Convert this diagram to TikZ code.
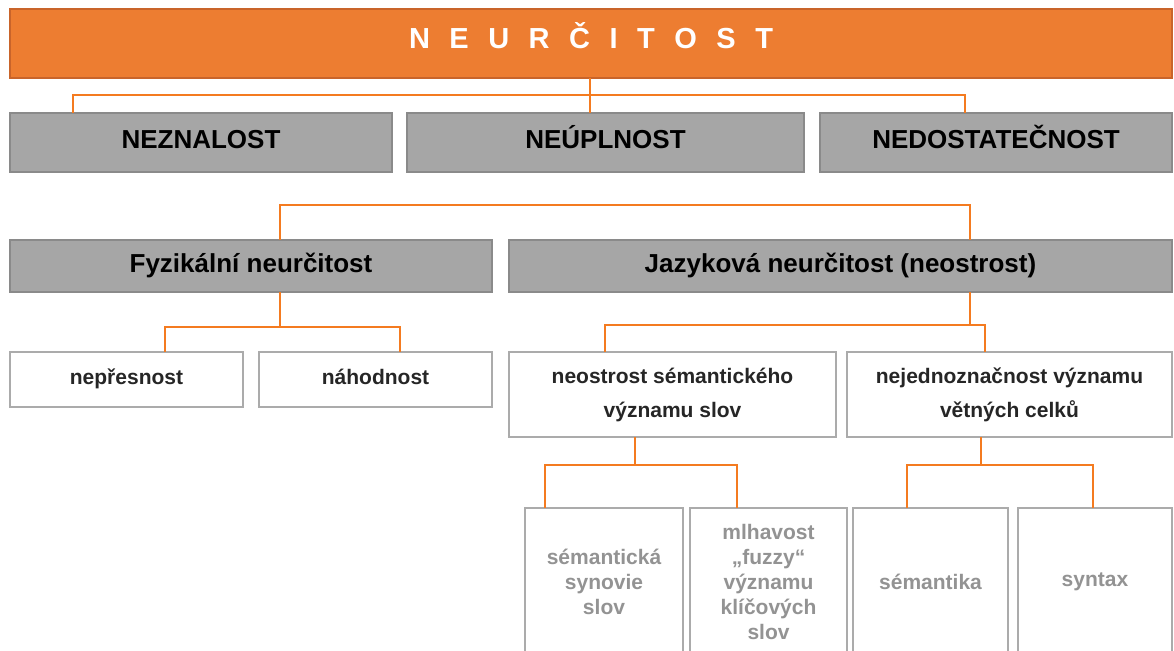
\documentclass[tikz,border=0pt]{standalone}
\usepackage{fontspec}
\setmainfont{Liberation Sans}

\definecolor{orangemain}{HTML}{ED7D31}
\definecolor{orangeedge}{HTML}{C9642A}
\definecolor{connorange}{HTML}{F47B20}
\definecolor{boxgray}{HTML}{A6A6A6}
\definecolor{boxedge}{HTML}{8A8A8A}
\definecolor{lightedge}{HTML}{ABABAB}
\definecolor{softtext}{HTML}{939393}

\tikzset{
  titlebar/.style={draw=orangeedge, line width=2pt, fill=orangemain, anchor=north west,
    inner sep=0pt, outer sep=0pt, text=white, font=\fontsize{29}{32}\selectfont\bfseries,
    text height=20pt, text depth=9pt},
  graybox/.style={draw=boxedge, line width=2.5pt, fill=boxgray, anchor=north west,
    inner sep=0pt, outer sep=0pt, text=black, font=\fontsize{26}{30}\selectfont\bfseries,
    text height=18.5pt, text depth=6pt},
  whitebox/.style={draw=lightedge, line width=2.5pt, fill=white, anchor=north west,
    inner sep=0pt, outer sep=0pt, align=center, text=black!85,
    font=\fontsize{21}{34}\selectfont\bfseries},
  onerow/.style={text height=15pt, text depth=5pt},
  leafbox/.style={whitebox, text=softtext, font=\fontsize{21}{25}\selectfont\bfseries},
  conn/.style={draw=connorange, line width=2.5pt},
}

\begin{document}
\begin{tikzpicture}[x=1pt,y=-1pt]
\useasboundingbox (0,0) rectangle (1174,650);
\clip (0,0) rectangle (1174,650);

% title bar
\node[titlebar, minimum width=1162pt, minimum height=69pt] (title) at (10,9)
  {\spaceskip=19.5pt N E U R Č I T O S T};

% first level
\node[graybox, minimum width=382pt, minimum height=59pt, text depth=7pt] (neznalost) at (10,113) {NEZNALOST};
\node[graybox, minimum width=397pt, minimum height=59pt, text depth=7pt] (neuplnost) at (407,113) {NEÚPLNOST};
\node[graybox, minimum width=352pt, minimum height=59pt, text depth=7pt] (nedost) at (820,113) {NEDOSTATEČNOST};

% second level
\node[graybox, minimum width=482pt, minimum height=52pt] (fyz) at (10,240) {Fyzikální neurčitost};
\node[graybox, minimum width=663pt, minimum height=52pt] (jaz) at (509,240) {Jazyková neurčitost (neostrost)};

% third level
\node[whitebox, onerow, minimum width=233pt, minimum height=55pt] (nepresnost) at (10,352) {nepřesnost};
\node[whitebox, onerow, minimum width=233pt, minimum height=55pt] (nahodnost) at (259,352) {náhodnost};
\node[whitebox, minimum width=327pt, minimum height=85pt] (slova) at (509,352)
  {neostrost sémantického\\významu slov};
\node[whitebox, minimum width=325pt, minimum height=85pt] (vety) at (847,352)
  {nejednoznačnost významu\\větných celků};

% leaves (run past the lower edge)
\node[leafbox, minimum width=158pt, minimum height=148pt] (synonymie) at (525,508)
  {sémantická\\synovie\\slov};
\node[leafbox, minimum width=157pt, minimum height=148pt] (mlhavost) at (690,508)
  {mlhavost\\„fuzzy“\\významu\\klíčových\\slov};
\node[leafbox, minimum width=155pt, minimum height=148pt] (semantika) at (853,508) {sémantika};
\node[leafbox, minimum width=154pt, minimum height=148pt] (syntax) at (1018,508) {syntax};

% bus points of the connectors
\coordinate (bus1) at (590,95);  \coordinate (bus1l) at (73,95);  \coordinate (bus1r) at (965,95);
\coordinate (bus2l) at (280,205); \coordinate (bus2r) at (970,205);
\coordinate (bus3) at (280,327); \coordinate (bus3l) at (165,327); \coordinate (bus3r) at (400,327);
\coordinate (bus4) at (970,325); \coordinate (bus4l) at (605,325); \coordinate (bus4r) at (985,325);
\coordinate (bus5) at (635,465); \coordinate (bus5l) at (545,465); \coordinate (bus5r) at (737,465);
\coordinate (bus6) at (981,465); \coordinate (bus6l) at (907,465); \coordinate (bus6r) at (1093,465);

% connectors
\draw[conn] (title.south -| bus1) -- (bus1 |- neuplnost.north);
\draw[conn] (bus1l |- neznalost.north) -- (bus1l) -- (bus1r) -- (bus1r |- nedost.north);

\draw[conn] (bus2l |- fyz.north) -- (bus2l) -- (bus2r) -- (bus2r |- jaz.north);

\draw[conn] (fyz.south -| bus3) -- (bus3);
\draw[conn] (bus3l |- nepresnost.north) -- (bus3l) -- (bus3r) -- (bus3r |- nahodnost.north);

\draw[conn] (jaz.south -| bus4) -- (bus4);
\draw[conn] (bus4l |- slova.north) -- (bus4l) -- (bus4r) -- (bus4r |- vety.north);

\draw[conn] (slova.south -| bus5) -- (bus5);
\draw[conn] (bus5l |- synonymie.north) -- (bus5l) -- (bus5r) -- (bus5r |- mlhavost.north);

\draw[conn] (vety.south -| bus6) -- (bus6);
\draw[conn] (bus6l |- semantika.north) -- (bus6l) -- (bus6r) -- (bus6r |- syntax.north);
\end{tikzpicture}
\end{document}
